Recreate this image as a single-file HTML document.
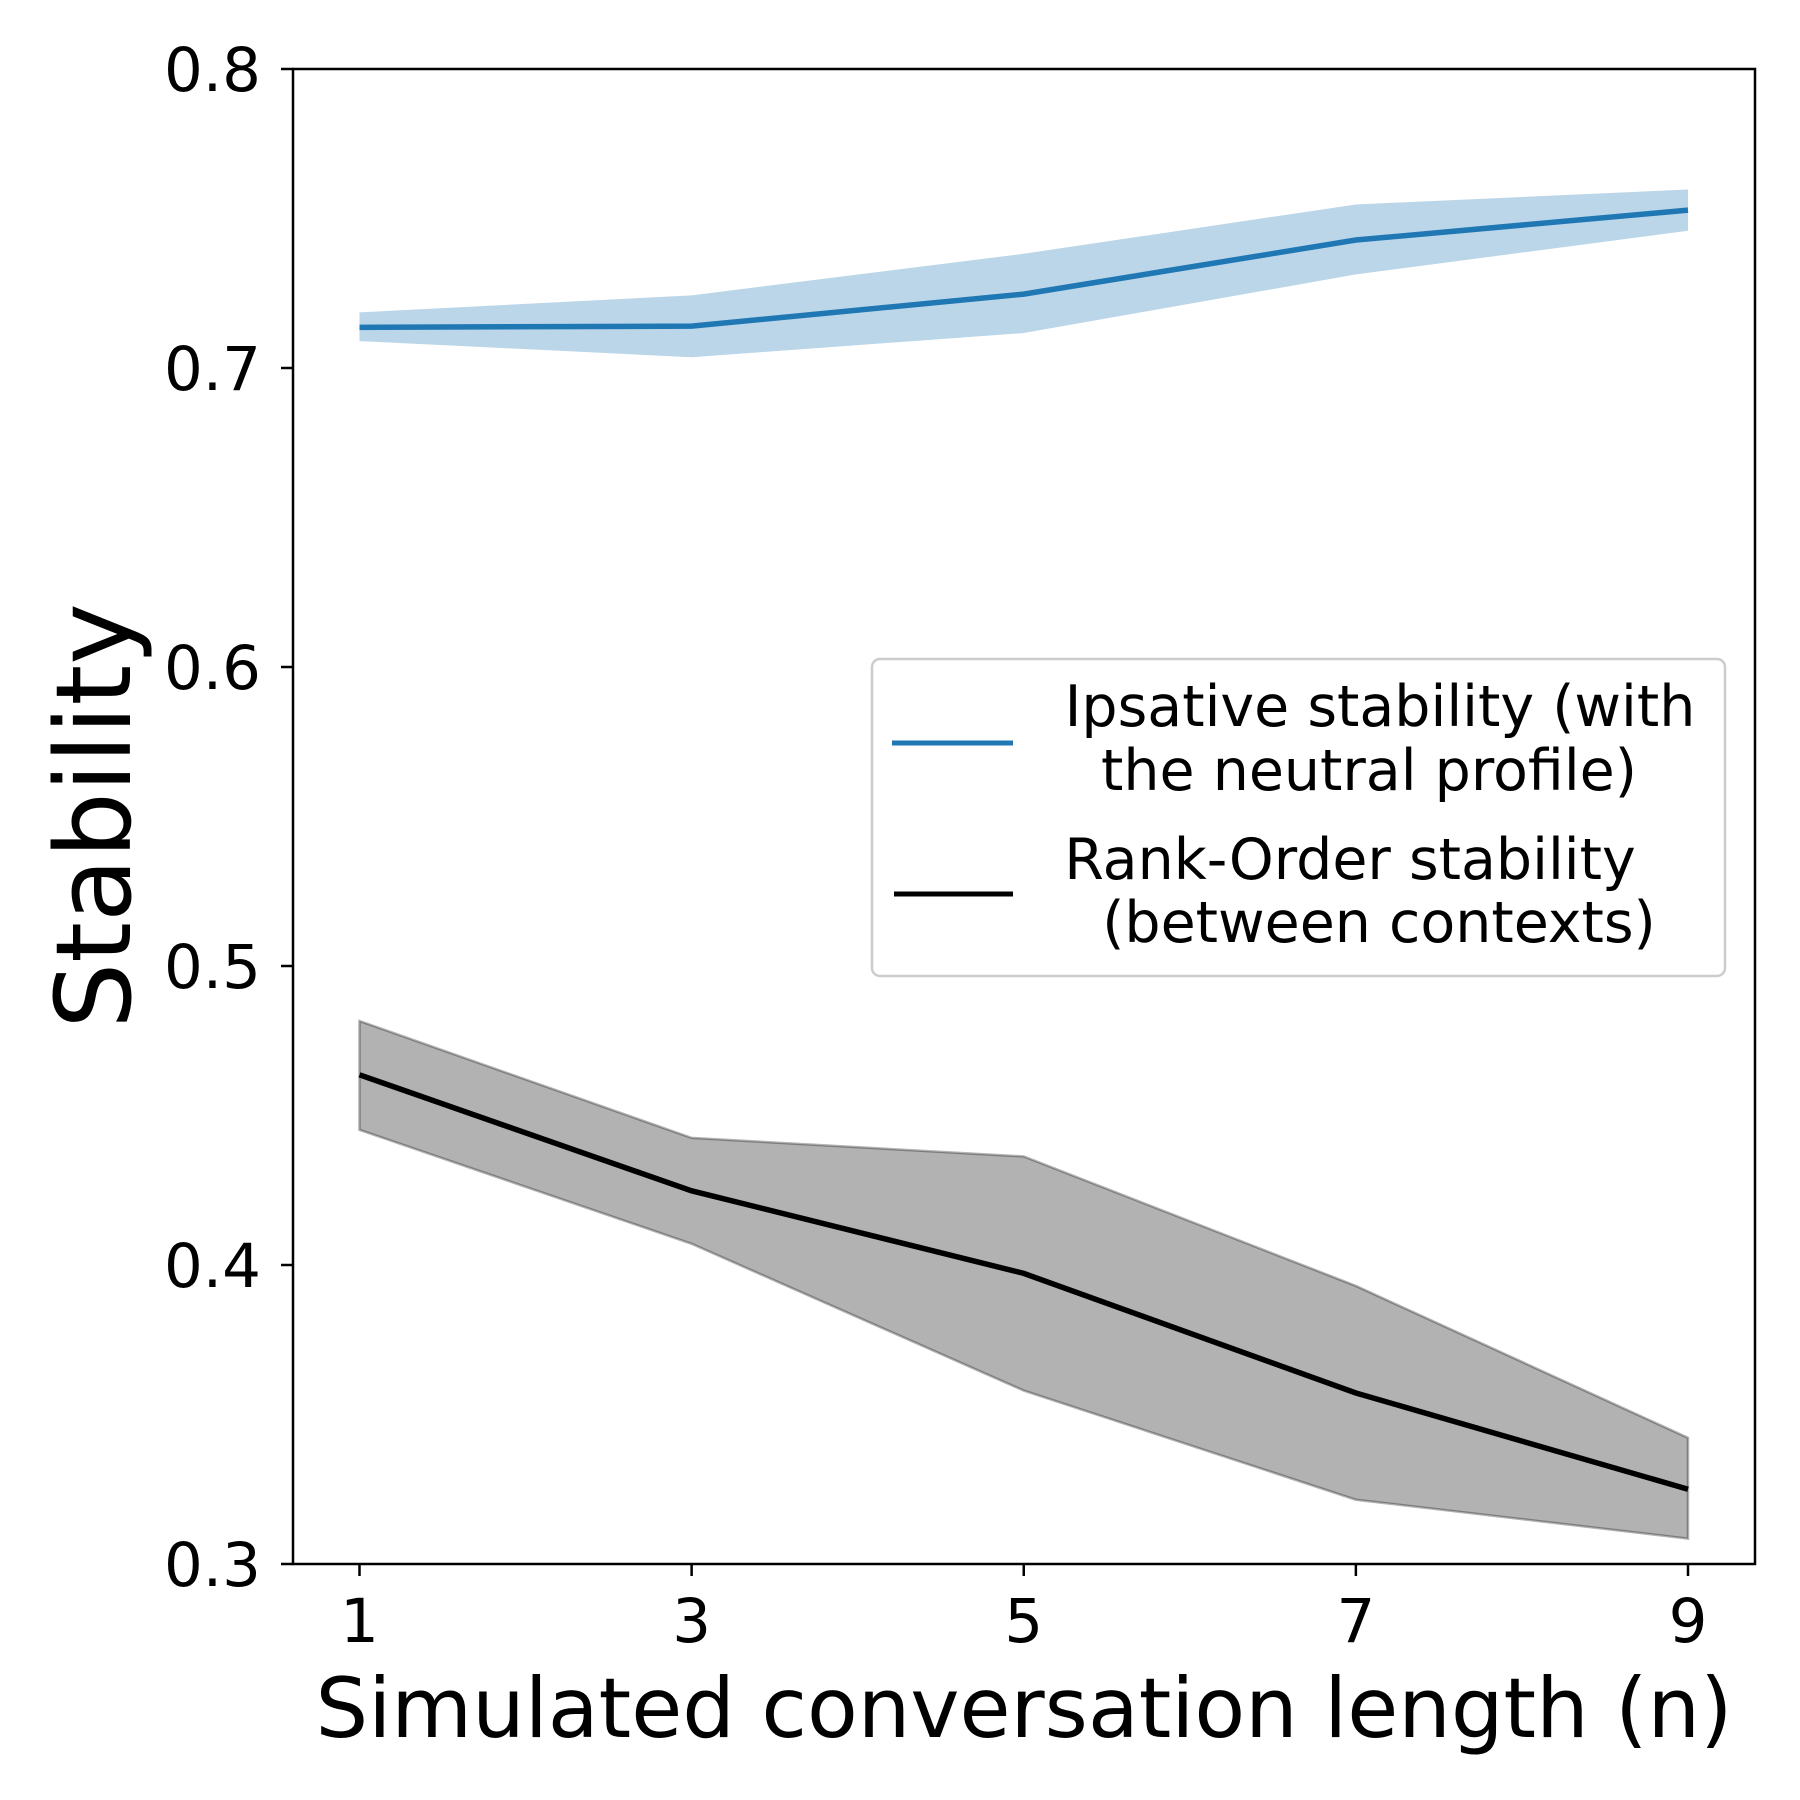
<!DOCTYPE html>
<html><head><meta charset="utf-8"><style>
html,body{margin:0;padding:0;background:#fff;}
svg{display:block;font-family:"DejaVu Sans","Liberation Sans",sans-serif;}
</style></head><body>
<svg id="chart" width="1800" height="1800" viewBox="0 0 1800 1800">
<g id="plot"></g>
</svg>
<script>
const xCats = [1, 3, 5, 7, 9];
const ipsMean = [0.7136, 0.714, 0.7247, 0.7428, 0.7528];
const ipsUpper = [0.7186, 0.7243, 0.7382, 0.7547, 0.7597];
const ipsLower = [0.709, 0.7036, 0.7117, 0.7313, 0.7459];
const rankMean = [0.4636, 0.4248, 0.3972, 0.3572, 0.325];
const rankUpper = [0.4816, 0.4425, 0.4363, 0.393, 0.3422];
const rankLower = [0.4452, 0.4071, 0.358, 0.3215, 0.3085];
const yTicks = [0.3, 0.4, 0.5, 0.6, 0.7, 0.8];
const yTickLabels = ["0.3", "0.4", "0.5", "0.6", "0.7", "0.8"];
const xTickLabels = ["1", "3", "5", "7", "9"];

const L = 293, R = 1755, T = 69, B = 1564;
const xs = v => 359.5 + (v - 1) * (1688 - 359.5) / 8;
const ys = v => B - (v - 0.3) * (B - T) / 0.5;
const NS = "http://www.w3.org/2000/svg";
const g = document.getElementById('plot');
function mk(tag, attrs, parent) {
  const e = document.createElementNS(NS, tag);
  for (const k in attrs) e.setAttribute(k, attrs[k]);
  (parent || g).appendChild(e);
  return e;
}
function band(up, lo) {
  let d = up.map((v, i) => (i ? 'L' : 'M') + xs(xCats[i]) + ',' + ys(v)).join('');
  for (let i = lo.length - 1; i >= 0; i--) d += 'L' + xs(xCats[i]) + ',' + ys(lo[i]);
  return d + 'Z';
}
function line(arr) {
  return arr.map((v, i) => (i ? 'L' : 'M') + xs(xCats[i]) + ',' + ys(v)).join('');
}
let e;
e = mk('path', {d: band(ipsUpper, ipsLower), fill: '#1f77b4', 'fill-opacity': 0.3, stroke: 'none'});


e = mk('path', {d: band(rankUpper, rankLower), fill: '#000', 'fill-opacity': 0.3, stroke: '#000', 'stroke-opacity': 0.3, 'stroke-width': 2.5});


e = mk('path', {d: line(ipsMean), fill: 'none', stroke: '#1f77b4', 'stroke-width': 5.5});


e = mk('path', {d: line(rankMean), fill: 'none', stroke: '#000', 'stroke-width': 5.5});



e = mk('rect', {x: L, y: T, width: R - L, height: B - T, fill: 'none', stroke: '#000', 'stroke-width': 2.5});



yTicks.forEach((v, i) => {
  const t = mk('line', {x1: L - 12, x2: L, y1: ys(v), y2: ys(v), stroke: '#000', 'stroke-width': 2.5});
  
  
  const tx = mk('text', {x: L - 32, y: ys(v) + 22, 'text-anchor': 'end', 'font-size': 61, fill: '#000'});
  tx.textContent = yTickLabels[i];
  
  
});
xCats.forEach((v, i) => {
  const t = mk('line', {x1: xs(v), x2: xs(v), y1: B, y2: B + 12, stroke: '#000', 'stroke-width': 2.5});
  
  
  const tx = mk('text', {x: xs(v), y: 1642, 'text-anchor': 'middle', 'font-size': 61, fill: '#000'});
  tx.textContent = xTickLabels[i];
  
  
});
</script>
<svg style="position:absolute;left:0;top:0" width="1800" height="1800">
<text x="1024" y="1737" text-anchor="middle" font-size="83" fill="#000" font-family="DejaVu Sans, Liberation Sans, sans-serif">Simulated conversation length (n)</text>
<text transform="translate(130,816) rotate(-90)" text-anchor="middle" font-size="104" fill="#000" font-family="DejaVu Sans, Liberation Sans, sans-serif">Stability</text>
<g>
<rect x="872" y="659" width="853" height="317" rx="8" fill="#fff" fill-opacity="0.8" stroke="#ccc" stroke-width="2.5"/>
<line x1="892" x2="1013" y1="743" y2="743" stroke="#1f77b4" stroke-width="5"/>
<line x1="894" x2="1013" y1="894" y2="894" stroke="#000" stroke-width="5"/>
<g font-size="57" fill="#000" text-anchor="middle" font-family="DejaVu Sans, Liberation Sans, sans-serif">
<text x="1380" y="726">Ipsative stability (with</text>
<text x="1369" y="790">the neutral profile)</text>
<text x="1350" y="879">Rank-Order stability</text>
<text x="1379" y="942">(between contexts)</text>
</g>
</g>
</svg>
</body></html>
